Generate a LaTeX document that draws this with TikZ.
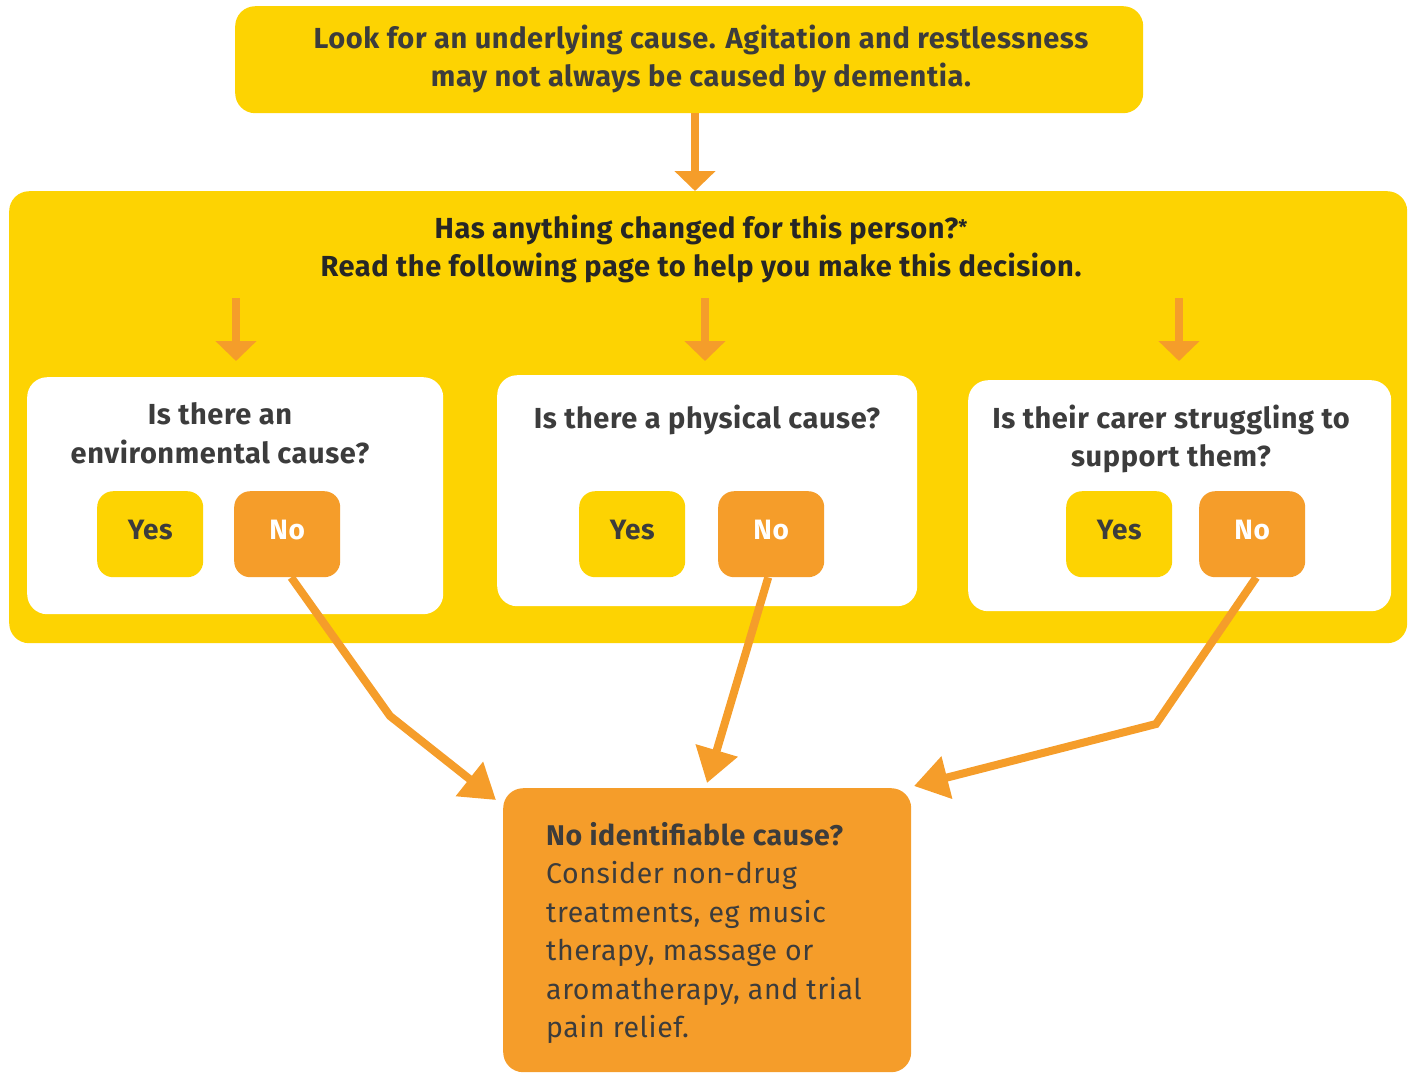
\documentclass[tikz,border=0pt]{standalone}
\usepackage{fontspec}
\setmainfont{Fira Sans}[LetterSpace=2]
\usetikzlibrary{arrows.meta}
\definecolor{ylw}{HTML}{FDD302}
\definecolor{org}{HTML}{F59D2A}
\definecolor{txt}{HTML}{3C3C3C}
\definecolor{txtb}{HTML}{262626}
\tikzset{
  box/.style={rounded corners=20pt, inner sep=0pt, anchor=north west},
  ybox/.style={box, fill=ylw},
  wbox/.style={box, fill=white},
  yesbox/.style={rounded corners=16pt, fill=ylw, minimum width=106pt, minimum height=86pt, anchor=north west, inner sep=0pt, text=txt, font=\bfseries\fontsize{28}{30}\selectfont},
  nobox/.style={yesbox, fill=org, text=white},
  lbl/.style={align=center, text=txt, font=\bfseries\fontsize{29}{38.5}\selectfont, inner sep=0pt},
  vconn/.style={draw=org, line width=8pt, -{Triangle[length=20pt,width=40pt]}},
  dconn/.style={draw=org, line width=8pt, line join=miter, -{Triangle[length=34pt,width=42pt]}},
}
\begin{document}
\begin{tikzpicture}[x=1pt,y=-1pt]
\useasboundingbox (0,0) rectangle (1413,1072);
% top box
\node[ybox, minimum width=908pt, minimum height=107pt] (top) at (235,6) {};
\node[lbl] (toptext) at (701,59) {Look for an underlying cause. Agitation and restlessness\\may not always be caused by dementia.};
% big box
\node[ybox, minimum width=1398pt, minimum height=452pt] (big) at (9,191) {};
\node[lbl, text=txtb] (head) at (701,249) {Has anything changed for this person?\raisebox{4pt}{\fontsize{20}{20}\selectfont*}\\Read the following page to help you make this decision.};
% white boxes
\node[wbox, minimum width=416pt, minimum height=237pt] (w1) at (27,377) {};
\node[wbox, minimum width=420pt, minimum height=231pt] (w2) at (497,375) {};
\node[wbox, minimum width=423pt, minimum height=231pt] (w3) at (968,380) {};
\node[lbl] (q1) at (220,433) {Is there an\\environmental cause?};
\node[lbl] (q2) at (707,420) {Is there a physical cause?};
\node[lbl] (q3) at (1171,439) {Is their carer struggling to\\support them?};
% yes/no
\node[yesbox] (y1) at (97,491) {\raisebox{8pt}{Yes}};
\node[nobox] (n1) at (234,491) {\raisebox{8pt}{No}};
\node[yesbox] (y2) at (579,491) {\raisebox{8pt}{Yes}};
\node[nobox] (n2) at (718,491) {\raisebox{8pt}{No}};
\node[yesbox] (y3) at (1066,491) {\raisebox{8pt}{Yes}};
\node[nobox] (n3) at (1199,491) {\raisebox{8pt}{No}};
% bottom box
\node[box, fill=org, minimum width=408pt, minimum height=284pt] (bot) at (503,788) {};
\node[anchor=north west, align=left, text=txt, inner sep=0pt, font=\fontsize{28.5}{38.5}\selectfont] (bottext) at (546,822) {\textbf{No identifiable cause?}\\Consider non-drug\\treatments, eg music\\therapy, massage or\\aromatherapy, and trial\\pain relief.};
% connectors
\coordinate (a0) at (695,113);
\draw[vconn] (a0) -- (a0 |- big.north);
\coordinate (s1) at (236,298);
\coordinate (s2) at (705,298);
\coordinate (s3) at (1179,298);
\coordinate (e1) at (236,361);
\coordinate (e2) at (705,361);
\coordinate (e3) at (1179,361);
\draw[vconn] (s1) -- (e1);
\draw[vconn] (s2) -- (e2);
\draw[vconn] (s3) -- (e3);
\coordinate (b1) at (390,716);
\coordinate (t1) at (496,800);
\coordinate (t2) at (707,783);
\coordinate (b3) at (1156,724);
\coordinate (t3) at (914,786);
\draw[dconn] ([xshift=4pt]n1.south) -- (b1) -- (t1);
\draw[dconn] ([xshift=-3pt]n2.south) -- (t2);
\draw[dconn] ([xshift=4pt]n3.south) -- (b3) -- (t3);
\end{tikzpicture}
\end{document}
